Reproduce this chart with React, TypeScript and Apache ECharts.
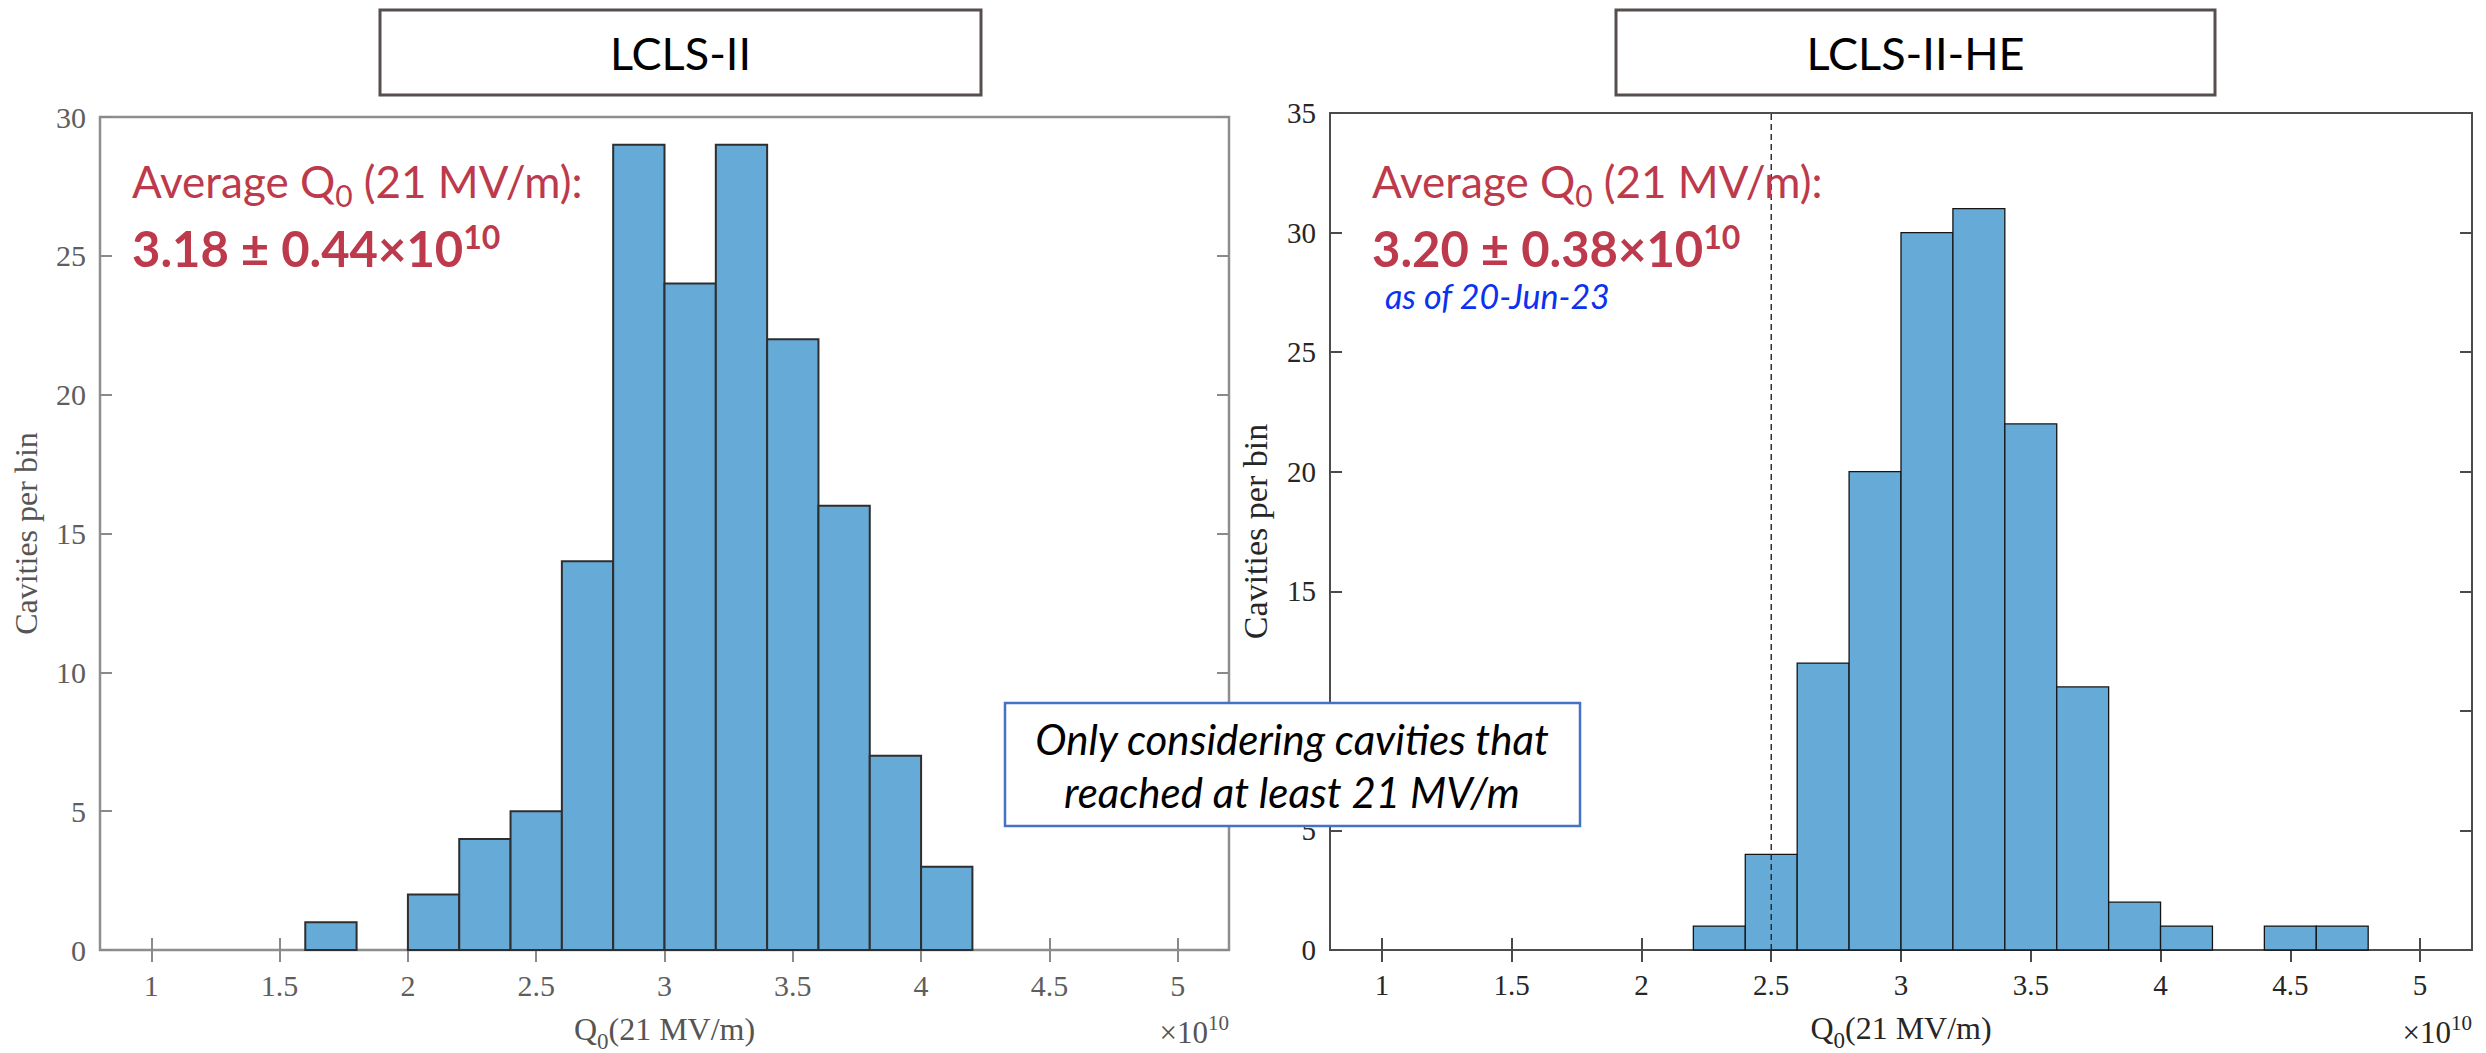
import React, { useEffect, useRef } from "react";
import * as echarts from "echarts";

// ---------- data ----------
const binWidth = 0.2;
const lclsBinStart = [1.6, 2.0, 2.2, 2.4, 2.6, 2.8, 3.0, 3.2, 3.4, 3.6, 3.8, 4.0];
const lclsCounts = [1, 2, 4, 5, 14, 29, 24, 29, 22, 16, 7, 3];
const heBinStart = [2.2, 2.4, 2.6, 2.8, 3.0, 3.2, 3.4, 3.6, 3.8, 4.0, 4.4, 4.6];
const heCounts = [1, 4, 12, 20, 30, 31, 22, 11, 2, 1, 1, 1];
const xTicks = [1, 1.5, 2, 2.5, 3, 3.5, 4, 4.5, 5];
const xMin = 0.8;
const xMax = 5.2;
const lclsYMax = 30;
const heYMax = 35;
const yStep = 5;
const heThreshold = 2.5;

const titles = ["LCLS-II", "LCLS-II-HE"];
const avgLabel = "Average Q{sub|0} (21 MV/m):";
const lclsAvg = "3.18 ± 0.44×10{sup|10}";
const heAvg = "3.20 ± 0.38×10{sup|10}";
const heDate = "as of 20-Jun-23";
const noteText = "Only considering cavities that\nreached at least 21 MV/m";
const yTitle = "Cavities per bin";
const xTitle = "Q{sub|0}(21 MV/m)";

const SERIF = "'Liberation Serif', 'Times New Roman', serif";
const SANS = "Lato, 'Open Sans', sans-serif";
const FILL = "#66AAD7";
const RED = "#BD3A4C";

function histData(starts: number[], counts: number[]) {
  return starts.map((s, i) => [s, +(s + binWidth).toFixed(2), counts[i]]);
}

function barSeries(data: number[][], axisIdx: number, stroke: string, lw: number) {
  return {
    type: "custom",
    xAxisIndex: axisIdx,
    yAxisIndex: axisIdx,
    encode: { x: [0, 1], y: 2 },
    data,
    z: 3,
    renderItem: (params: any, api: any) => {
      const p0 = api.coord([api.value(0), api.value(2)]);
      const p1 = api.coord([api.value(1), 0]);
      return {
        type: "rect",
        shape: { x: p0[0], y: p0[1], width: p1[0] - p0[0], height: p1[1] - p0[1] },
        style: { fill: FILL, stroke, lineWidth: lw },
      };
    },
  };
}

function axesFor(
  grid: number,
  yMax: number,
  c: { line: string; label: string; title: string; lab: number; ttl: number; yttl: number }
) {
  const tickStyle = { color: c.line, width: 2 };
  const xs = [
    {
      gridIndex: grid,
      type: "value",
      min: xMin,
      max: xMax,
      position: "bottom",
      axisLine: { show: false },
      splitLine: { show: false },
      axisTick: { show: true, inside: true, length: 12, customValues: xTicks, lineStyle: tickStyle },
      axisLabel: {
        customValues: xTicks,
        fontFamily: SERIF,
        fontSize: c.lab,
        color: c.label,
        margin: 20,
      },
      name: xTitle,
      nameLocation: "middle",
      nameGap: 50,
      nameTextStyle: {
        fontFamily: SERIF,
        fontSize: c.ttl,
        color: c.title,
        lineHeight: 48,
        verticalAlign: "top",
        rich: {
          sub: { fontFamily: SERIF, fontSize: 23, color: c.title, verticalAlign: "bottom", lineHeight: 22 },
        },
      },
    },
    {
      gridIndex: grid,
      type: "value",
      min: xMin,
      max: xMax,
      position: "top",
      axisLine: { show: false },
      splitLine: { show: false },
      axisTick: { show: true, inside: true, length: 12, customValues: xTicks, lineStyle: tickStyle },
      axisLabel: { show: false },
    },
  ];
  const ys = [
    {
      gridIndex: grid,
      type: "value",
      min: 0,
      max: yMax,
      interval: yStep,
      position: "left",
      axisLine: { show: false },
      splitLine: { show: false },
      axisTick: { show: true, inside: true, length: 12, lineStyle: tickStyle },
      axisLabel: { fontFamily: SERIF, fontSize: c.lab, color: c.label, margin: 14 },
      name: yTitle,
      nameLocation: "middle",
      nameRotate: 90,
      nameGap: 58,
      nameTextStyle: { fontFamily: SERIF, fontSize: c.yttl, color: c.title },
    },
    {
      gridIndex: grid,
      type: "value",
      min: 0,
      max: yMax,
      interval: yStep,
      position: "right",
      axisLine: { show: false },
      splitLine: { show: false },
      axisTick: { show: true, inside: true, length: 12, lineStyle: tickStyle },
      axisLabel: { show: false },
    },
  ];
  return { xs, ys };
}

export default function App() {
  const ref = useRef<HTMLDivElement>(null);
  useEffect(() => {
    if (!ref.current) return;
    const chart = echarts.init(ref.current, null, { renderer: "svg" });
    const left = axesFor(0, lclsYMax, { line: "#8A8A8A", label: "#5E5E5E", title: "#555555", lab: 30, ttl: 32, yttl: 32 });
    const right = axesFor(1, heYMax, { line: "#4A4A4A", label: "#262626", title: "#262626", lab: 29, ttl: 32, yttl: 34 });

    const sup = { fontFamily: SANS, fontWeight: "bold", fontSize: 32, fill: RED, color: RED, verticalAlign: "top", lineHeight: 32 };
    const sub = { fontFamily: SANS, fontSize: 30, fill: RED, color: RED, verticalAlign: "bottom", lineHeight: 30 };

    const annotate = (x: number, avg: string) => [
      {
        type: "text",
        x,
        y: 152,
        z: 10,
        style: {
          text: avgLabel,
          fontFamily: SANS,
          fontSize: 44,
          fill: RED,
          lineHeight: 58,
          rich: { sub },
        },
      },
      {
        type: "text",
        x,
        y: 220,
        z: 10,
        style: {
          text: avg,
          fontFamily: SANS,
          fontSize: 49,
          fontWeight: "bold",
          fill: RED,
          lineHeight: 56,
          rich: { sup },
        },
      },
    ];

    const titleBox = (x: number, w: number, t: string) => [
      {
        type: "rect",
        shape: { x, y: 10, width: w, height: 85 },
        style: { fill: "#fff", stroke: "#574E4E", lineWidth: 3 },
      },
      {
        type: "text",
        x: x + w / 2,
        y: 53,
        style: { text: t, fontFamily: SANS, fontSize: 45, fill: "#000", align: "center", verticalAlign: "middle" },
      },
    ];

    const times10 = (x: number, color: string) => ({
      type: "text",
      x,
      y: 1012,
      style: {
        text: "×10{sup|10}",
        fontFamily: SERIF,
        fontSize: 31,
        fill: color,
        align: "right",
        lineHeight: 40,
        rich: { sup: { fontFamily: SERIF, fontSize: 21, fill: color, color, verticalAlign: "top", lineHeight: 22 } },
      },
    });

    chart.setOption({
      animation: false,
      backgroundColor: "#ffffff",
      grid: [
        { left: 100, top: 117, width: 1129, height: 833, show: true, borderColor: "#8E8E8E", borderWidth: 2.5, backgroundColor: "transparent", containLabel: false, outerBoundsMode: "none" },
        { left: 1330, top: 113, width: 1142, height: 837, show: true, borderColor: "#4D4D4D", borderWidth: 2, backgroundColor: "transparent", containLabel: false, outerBoundsMode: "none" },
      ],
      xAxis: [...left.xs, ...right.xs],
      yAxis: [...left.ys, ...right.ys],
      series: [
        barSeries(histData(lclsBinStart, lclsCounts), 0, "#2E2E2E", 2),
        { ...barSeries(histData(heBinStart, heCounts), 2, "#151515", 1.3), xAxisIndex: 2, yAxisIndex: 2 },
        {
          type: "line",
          xAxisIndex: 2,
          yAxisIndex: 2,
          data: [
            [heThreshold, 0],
            [heThreshold, heYMax],
          ],
          symbol: "none",
          z: 4,
          lineStyle: { color: "#222", width: 1.4, type: [6, 4] },
        },
      ],
      graphic: [
        ...titleBox(380, 601, titles[0]),
        ...titleBox(1616, 599, titles[1]),
        ...annotate(132, lclsAvg),
        ...annotate(1372, heAvg),
        {
          type: "text",
          x: 1385,
          y: 278,
          z: 10,
          style: { text: heDate, fontFamily: SANS, fontSize: 34, fontStyle: "italic", fill: "#0A32F0" },
        },
        times10(1229, "#555555"),
        times10(2472, "#262626"),
        {
          type: "rect",
          z: 20,
          shape: { x: 1005, y: 703, width: 575, height: 123 },
          style: { fill: "#fff", stroke: "#4472C4", lineWidth: 2.5 },
        },
        {
          type: "text",
          z: 21,
          x: 1292,
          y: 765,
          style: {
            text: noteText,
            fontFamily: SANS,
            fontSize: 42,
            fontStyle: "italic",
            fill: "#000",
            align: "center",
            verticalAlign: "middle",
            lineHeight: 53,
          },
        },
      ],
    });
    return () => chart.dispose();
  }, []);
  return <div ref={ref} style={{ position: "fixed", left: 0, top: 0, width: 2486, height: 1053 }} />;
}
